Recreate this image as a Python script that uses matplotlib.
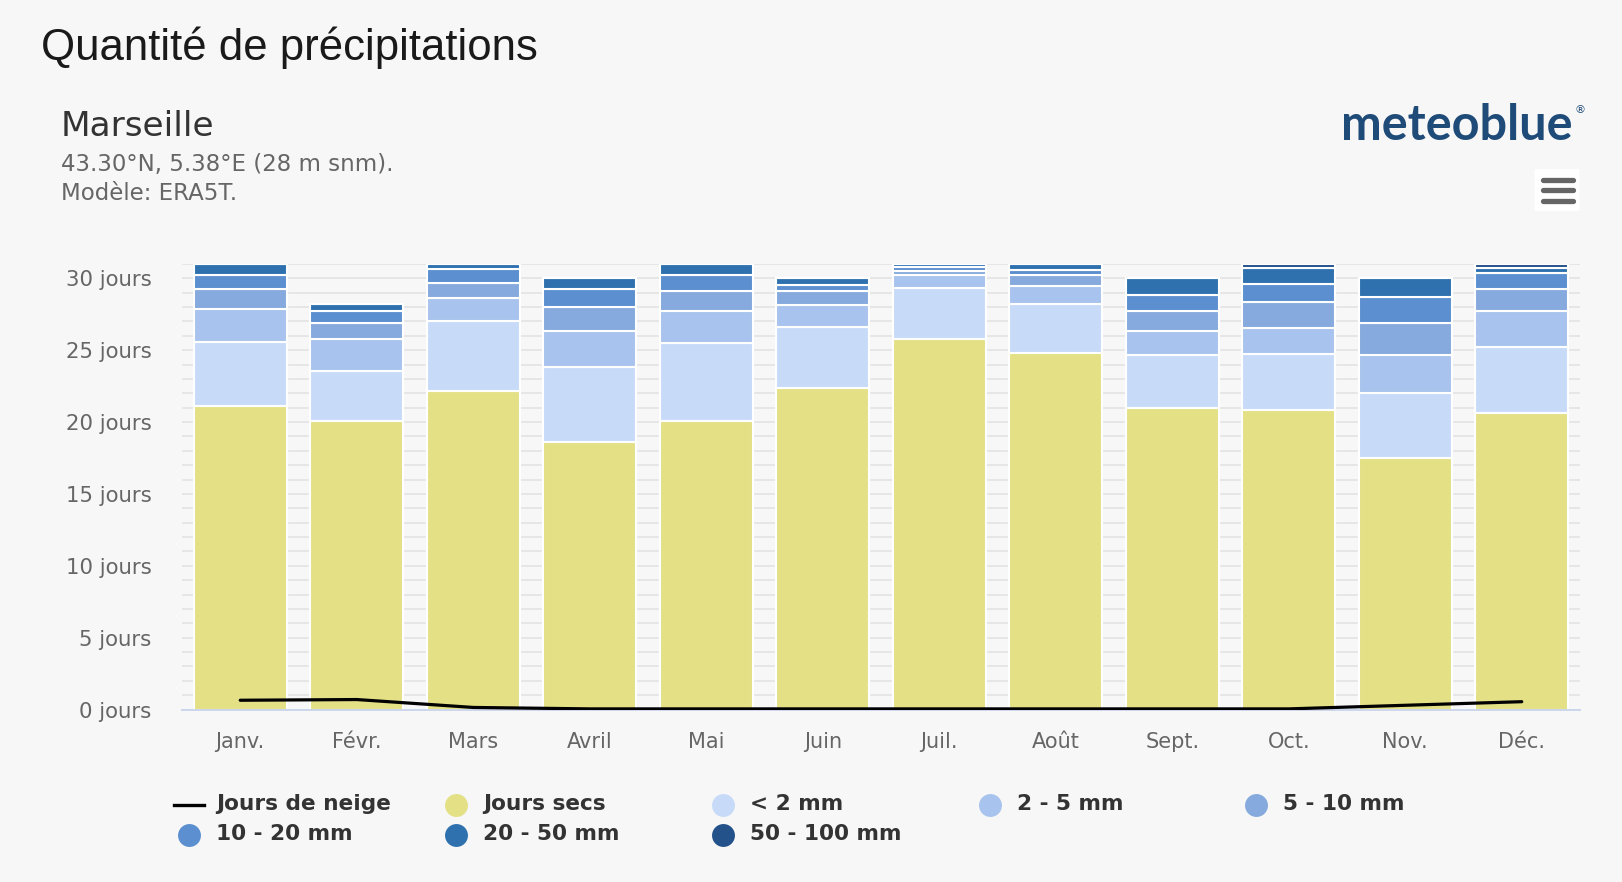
import matplotlib
matplotlib.use("Agg")
import matplotlib.pyplot as plt
import numpy as np
from matplotlib.patches import FancyBboxPatch
from matplotlib.lines import Line2D

# monthly day counts (days)
months = ['Janv.', 'Févr.', 'Mars', 'Avril', 'Mai', 'Juin',
          'Juil.', 'Août', 'Sept.', 'Oct.', 'Nov.', 'Déc.']
dry_days = [21.15, 20.05, 22.15, 18.65, 20.05, 22.4, 25.75, 24.8, 21.0, 20.85, 17.5, 20.6]
lt_2mm = [4.45, 3.5, 4.9, 5.2, 5.45, 4.2, 3.6, 3.45, 3.65, 3.9, 4.5, 4.6]
mm_2_5 = [2.25, 2.25, 1.55, 2.5, 2.25, 1.55, 0.85, 1.25, 1.7, 1.8, 2.65, 2.5]
mm_5_10 = [1.4, 1.1, 1.1, 1.65, 1.4, 0.95, 0.3, 0.7, 1.4, 1.8, 2.25, 1.55]
mm_10_20 = [0.95, 0.85, 0.95, 1.25, 1.1, 0.45, 0.3, 0.4, 1.1, 1.25, 1.8, 1.1]
mm_20_50 = [0.8, 0.45, 0.35, 0.75, 0.75, 0.45, 0.2, 0.4, 1.15, 1.1, 1.3, 0.4]
mm_50_100 = [0, 0, 0, 0, 0, 0, 0, 0, 0, 0.3, 0, 0.25]
snow_days = [0.65, 0.7, 0.15, 0.05, 0.05, 0.05, 0.05, 0.05, 0.05, 0.05, 0.3, 0.55]

series_names = ['Jours secs', '< 2 mm', '2 - 5 mm', '5 - 10 mm',
                '10 - 20 mm', '20 - 50 mm', '50 - 100 mm']
series_colors = ['#e3e085', '#c7dbf8', '#a8c3ed', '#86aadd',
                 '#5b8fcf', '#2f71af', '#23518a']
series_values = [dry_days, lt_2mm, mm_2_5, mm_5_10, mm_10_20, mm_20_50, mm_50_100]

W, H = 1622, 882
BG = '#f7f7f7'


def fx(px):
    return px / W


def fy(py):
    return 1 - py / H


fig = plt.figure(figsize=(W / 100, H / 100), dpi=100, facecolor=BG)
ax = fig.add_axes([fx(182), fy(709.6), fx(1580) - fx(182), (709.6 - 264) / H])
ax.set_facecolor(BG)

x = np.arange(len(months))
bottom = np.zeros(len(months))
for vals, col in zip(series_values, series_colors):
    vals = np.array(vals)
    ax.bar(x, vals, width=0.8, bottom=bottom, color=col,
           edgecolor='white', linewidth=1.5, zorder=2)
    bottom += vals

ax.plot(x, snow_days, color='black', linewidth=2.3, zorder=4,
        solid_capstyle='round')

ax.set_xlim(-0.5, 11.5)
ax.set_ylim(0, 31)
ax.set_yticks(np.arange(0, 31, 5))
ax.set_yticklabels([f'{v} jours' for v in range(0, 31, 5)])
ax.set_yticks(np.arange(1, 32), minor=True)
ax.set_xticks(x)
ax.set_xticklabels(months)
ax.tick_params(axis='y', which='both', length=0, pad=22, labelsize=15.3, labelcolor='#666666')
ax.tick_params(axis='x', length=0, pad=16, labelsize=15, labelcolor='#666666')
ax.grid(axis='y', which='both', color='#e6e6e6', linewidth=1.4)
ax.set_axisbelow(True)
for s in ['left', 'right', 'top']:
    ax.spines[s].set_visible(False)
ax.spines['bottom'].set_color('#ccd6eb')
ax.spines['bottom'].set_linewidth(1.4)
ax.spines['bottom'].set_zorder(3)

# header texts
fig.text(fx(41), fy(60), 'Quantité de précipitations', fontsize=31.5,
         family='Liberation Sans', color='#1a1a1a', va='baseline')
fig.text(fx(61), fy(136), 'Marseille', fontsize=24.7, color='#333333', va='baseline')
fig.text(fx(61), fy(171.5), '43.30°N, 5.38°E (28 m snm).', fontsize=16.5,
         color='#666666', va='baseline')
fig.text(fx(61), fy(199.5), 'Modèle: ERA5T.', fontsize=16.5,
         color='#666666', va='baseline')

# logo
fig.text(fx(1572), fy(140), 'meteoblue', fontsize=35, family='Lato',
         fontweight='bold', color='#1f4b78', va='baseline', ha='right')
fig.text(fx(1574), fy(110), '®', fontsize=8, color='#1f4b78', va='center', ha='left')

# menu button
fig.patches.append(FancyBboxPatch((fx(1536), fy(210)), fx(1578) - fx(1536), (210 - 170) / H,
                                  boxstyle='round,pad=0.001', facecolor='white',
                                  edgecolor='none', transform=fig.transFigure))
for yy in [179.5, 190, 200.5]:
    fig.add_artist(Line2D([fx(1543), fx(1573)], [fy(yy), fy(yy)], color='#666666',
                          linewidth=3.8, solid_capstyle='round'))

# legend (row-major, fixed column spacing like the original)
col_x = [189, 456, 723, 990, 1256]
row_y = [804.5, 834.5]
entries = [('Jours de neige', 'line', 'black')] + \
          [(n, 'dot', c) for n, c in zip(series_names, series_colors)]
for i, (name, kind, col) in enumerate(entries):
    cx = col_x[i % 5]
    cy = row_y[i // 5]
    if kind == 'line':
        fig.add_artist(Line2D([fx(cx - 15), fx(cx + 15)], [fy(cy), fy(cy)],
                              color=col, linewidth=2.4))
    else:
        fig.add_artist(Line2D([fx(cx)], [fy(cy)], marker='o', markersize=16.5,
                              markerfacecolor=col, markeredgecolor='none',
                              linestyle='none'))
    fig.text(fx(cx + 27), fy(cy), name, fontsize=15.6, fontweight='bold',
             color='#333333', va='center', ha='left')

fig.savefig('out.png', dpi=100, facecolor=BG)
